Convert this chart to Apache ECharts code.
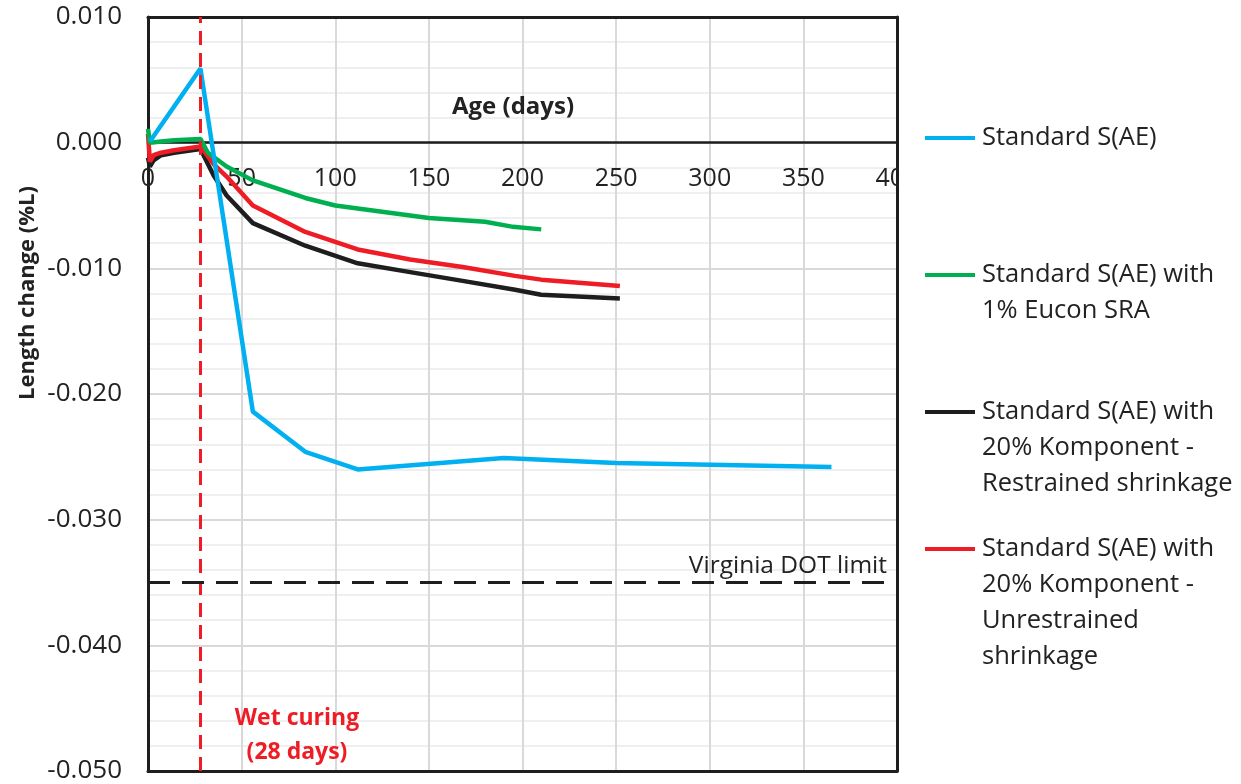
<!DOCTYPE html>
<html>
<head>
<meta charset="utf-8">
<script src="https://cdn.jsdelivr.net/npm/echarts@6/dist/echarts.min.js"></script>
<style>
  html, body { margin: 0; padding: 0; background: #ffffff; }
  #chart { width: 1241px; height: 784px; }
</style>
</head>
<body>
<div id="chart"></div>
<script>
// Length change of S(AE) concrete mixes versus age
const seriesNames = [
  'Standard S(AE)',
  'Standard S(AE) with\n1% Eucon SRA',
  'Standard S(AE) with\n20% Komponent -\nRestrained shrinkage',
  'Standard S(AE) with\n20% Komponent -\nUnrestrained\nshrinkage'
];

const stdAges   = [1, 28, 56, 84, 112, 190, 250, 365];
const stdValues = [0.0001, 0.0059, -0.0214, -0.0246, -0.0260, -0.0251, -0.0255, -0.0258];

const sraAges   = [0, 1, 7, 14, 28, 32, 42, 56, 84, 100, 125, 150, 180, 195, 210];
const sraValues = [0.0011, 0.0000, 0.0001, 0.0002, 0.0003, -0.0008, -0.0019, -0.0030, -0.0044, -0.0050, -0.0055, -0.0060, -0.0063, -0.0067, -0.0069];

const restrainedAges   = [0, 1, 3, 7, 14, 28, 35, 42, 56, 84, 112, 140, 168, 196, 210, 252];
const restrainedValues = [-0.0012, -0.0019, -0.0014, -0.0010, -0.0008, -0.0005, -0.0026, -0.0042, -0.0064, -0.0082, -0.0096, -0.0103, -0.0110, -0.0117, -0.0121, -0.0124];

const unrestrainedAges   = [0, 1, 3, 7, 14, 28, 35, 42, 56, 84, 112, 140, 168, 196, 210, 252];
const unrestrainedValues = [0.0007, -0.0015, -0.0010, -0.0008, -0.0006, -0.0003, -0.0017, -0.0027, -0.0050, -0.0071, -0.0085, -0.0093, -0.0099, -0.0106, -0.0109, -0.0114];

const wetCuringDays = 28;
const dotLimit = -0.035;

const ageMin = 0, ageMax = 400, ageStep = 50;
const changeMin = -0.05, changeMax = 0.01, changeStep = 0.01;

const colors = ['#00b0f0', '#00b050', '#1e1e1e', '#ee1c25'];
const textColor = '#222222';
const frameColor = '#1e1e1e';
const baseFont = '"Open Sans", "Noto Sans", sans-serif';

const chartWidth = 1241, chartHeight = 784;
const gridBox = { left: 148, right: 344, top: 17, bottom: 13 };
const gridHeight = chartHeight - gridBox.top - gridBox.bottom;
// the age axis sits on the zero line of the length-change axis
const ageAxisOffset = -((0 - changeMin) / (changeMax - changeMin)) * gridHeight;
const zeroLineY = chartHeight - gridBox.bottom + ageAxisOffset;

function pairs(xs, ys) { return xs.map((x, i) => [x, ys[i]]); }

const lineData = [
  pairs(stdAges, stdValues),
  pairs(sraAges, sraValues),
  pairs(restrainedAges, restrainedValues),
  pairs(unrestrainedAges, unrestrainedValues)
];

// key icon: a short bar level with the first text line, padded down to the text block height
const legendLineHeight = 36;
function keyIcon(lines) {
  const h = lines * legendLineHeight;
  const mid = legendLineHeight / 2;
  return 'path://M0 ' + (mid - 2) + 'H50V' + (mid + 2) + 'H0Z' +
         'M0 0H0.01V0.01H0Z' +
         'M49.99 ' + (h - 0.01) + 'H50V' + h + 'H49.99Z';
}

const legendTops = [120, 257, 394, 531];
const legends = seriesNames.map((name, i) => {
  const lines = name.split('\n').length;
  return {
    data: [{ name: name, icon: keyIcon(lines) }],
    orient: 'vertical',
    left: 925,
    top: legendTops[i],
    padding: 0,
    itemWidth: 50,
    itemHeight: lines * legendLineHeight,
    selectedMode: false,
    itemStyle: { borderWidth: 0 },
    textStyle: {
      fontFamily: baseFont,
      fontSize: 25.5,
      color: textColor,
      lineHeight: legendLineHeight,
      padding: [0, 0, 0, 2]
    }
  };
});

const drawOrder = [2, 3, 1, 0];
const series = drawOrder.map(i => ({
  name: seriesNames[i],
  type: 'line',
  data: lineData[i],
  showSymbol: false,
  symbol: 'none',
  smooth: false,
  lineStyle: { color: colors[i], width: 4.5 },
  itemStyle: { color: colors[i] },
  z: 3
}));

series.push({
  name: 'reference lines',
  type: 'line',
  data: [],
  silent: true,
  z: 4,
  markLine: {
    symbol: 'none',
    silent: true,
    animation: false,
    precision: 4,
    data: [
      {
        xAxis: wetCuringDays,
        lineStyle: { color: '#ee1c25', width: 3, type: [14, 8] },
        label: { show: false }
      },
      {
        yAxis: dotLimit,
        lineStyle: { color: frameColor, width: 3, type: [22, 12] },
        label: {
          show: true,
          position: 'insideEndTop',
          formatter: 'Virginia DOT limit',
          fontFamily: baseFont,
          fontSize: 24.5,
          color: textColor,
          distance: [10, 4]
        }
      }
    ]
  }
});

const frameAxisX = pos => ({
  type: 'value', position: pos, min: ageMin, max: ageMax, interval: ageStep,
  axisLine: { show: true, onZero: false, lineStyle: { color: frameColor, width: 3 } },
  axisTick: { show: false }, axisLabel: { show: false }, splitLine: { show: false }
});

const option = {
  backgroundColor: '#ffffff',
  animation: false,
  grid: Object.assign({ outerBoundsMode: 'none' }, gridBox),
  legend: legends,
  xAxis: [
    {
      type: 'value',
      position: 'bottom',
      offset: ageAxisOffset,
      min: ageMin, max: ageMax, interval: ageStep,
      axisLine: { show: true, onZero: false, lineStyle: { color: frameColor, width: 2.5 } },
      axisTick: { show: false },
      axisLabel: { show: true, fontFamily: baseFont, fontSize: 25, color: textColor, margin: 24 },
      splitLine: { show: true, lineStyle: { color: '#d9d9d9', width: 2 } }
    },
    frameAxisX('top'),
    frameAxisX('bottom')
  ],
  yAxis: [
    {
      type: 'value',
      min: changeMin, max: changeMax, interval: changeStep,
      axisLine: { show: true, onZero: false, lineStyle: { color: frameColor, width: 3 } },
      axisTick: { show: false },
      axisLabel: {
        fontFamily: baseFont, fontSize: 26, color: textColor, margin: 26,
        formatter: v => v.toFixed(3)
      },
      splitLine: { show: true, lineStyle: { color: '#d9d9d9', width: 2 } },
      minorTick: { show: false, splitNumber: 5 },
      minorSplitLine: { show: true, lineStyle: { color: '#efefef', width: 2 } }
    },
    {
      type: 'value', position: 'right',
      min: changeMin, max: changeMax, interval: changeStep,
      axisLine: { show: true, onZero: false, lineStyle: { color: frameColor, width: 3 } },
      axisTick: { show: false }, axisLabel: { show: false }, splitLine: { show: false }
    }
  ],
  graphic: [
    {
      // the plot frame clips the last age label on its right side
      type: 'rect', z: 50,
      shape: { x: chartWidth - gridBox.right + 2, y: zeroLineY + 12, width: 24, height: 50 },
      style: { fill: '#ffffff' }
    },
    {
      type: 'text',
      x: 513, y: 107, z: 100,
      style: {
        text: 'Age (days)',
        fontFamily: baseFont, fontSize: 24, fontWeight: 'bold', fill: textColor,
        align: 'center', verticalAlign: 'middle'
      }
    },
    {
      type: 'text',
      x: 28, y: 293, z: 100,
      rotation: Math.PI / 2,
      style: {
        text: 'Length change (%L)',
        fontFamily: baseFont, fontSize: 22, fontWeight: 'bold', fill: textColor,
        align: 'center', verticalAlign: 'middle'
      }
    },
    {
      type: 'text',
      x: 297, y: 735, z: 100,
      style: {
        text: 'Wet curing\n(28 days)',
        fontFamily: baseFont, fontSize: 23, fontWeight: 'bold', fill: '#ee1c25',
        align: 'center', verticalAlign: 'middle', lineHeight: 34
      }
    }
  ],
  series: series
};

const chart = echarts.init(document.getElementById('chart'), null, { renderer: 'canvas' });
chart.setOption(option);
</script>
</body>
</html>
